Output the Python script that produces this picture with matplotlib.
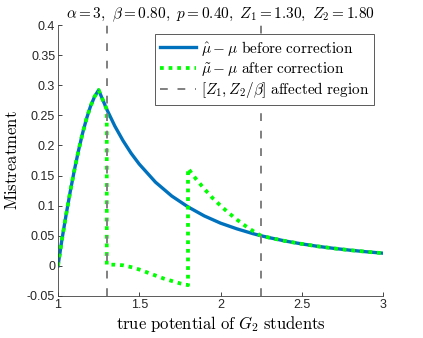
import numpy as np
import matplotlib
matplotlib.use("Agg")
import matplotlib.pyplot as plt

plt.rcParams['mathtext.fontset'] = 'cm'

# values
blue_x = [1.0, 1.025, 1.05, 1.075, 1.1, 1.125, 1.15, 1.175, 1.2, 1.225, 1.25,
          1.3, 1.35, 1.4, 1.45, 1.5, 1.6, 1.7, 1.8, 1.9, 2.0, 2.1, 2.2, 2.25,
          2.3, 2.4, 2.5, 2.6, 2.7, 2.8, 2.9, 3.0]
blue_y = [0.0, 0.045, 0.085, 0.123, 0.158, 0.19, 0.219, 0.244, 0.265, 0.281, 0.292,
          0.260, 0.232, 0.208, 0.187, 0.169, 0.139, 0.116, 0.098, 0.083, 0.071,
          0.0616, 0.0535, 0.050, 0.0469, 0.0412, 0.0365, 0.0324, 0.029, 0.026,
          0.0234, 0.0211]

green_x = [1.0, 1.025, 1.05, 1.075, 1.1, 1.125, 1.15, 1.175, 1.2, 1.225, 1.25,
           1.3, 1.3, 1.35, 1.4, 1.45, 1.5, 1.55, 1.6, 1.65, 1.7, 1.75, 1.8,
           1.8, 1.85, 1.9, 1.95, 2.0, 2.05, 2.1, 2.15, 2.2, 2.25,
           2.3, 2.4, 2.5, 2.6, 2.7, 2.8, 2.9, 3.0]
green_y = [0.0, 0.045, 0.085, 0.123, 0.158, 0.19, 0.219, 0.244, 0.265, 0.281, 0.292,
           0.260, 0.002, 0.002, 0.001, -0.002, -0.006, -0.011, -0.016, -0.021,
           -0.025, -0.029, -0.032,
           0.162, 0.144, 0.128, 0.113, 0.100, 0.088, 0.077, 0.067, 0.058, 0.050,
           0.0469, 0.0412, 0.0365, 0.0324, 0.029, 0.026, 0.0234, 0.0211]

z1 = 1.3
z2_over_beta = 2.25

xticks = [1, 1.5, 2, 2.5, 3]
xticklabels = ['1', '1.5', '2', '2.5', '3']
yticks = [-0.05, 0, 0.05, 0.1, 0.15, 0.2, 0.25, 0.3, 0.35, 0.4]
yticklabels = ['-0.05', '0', '0.05', '0.1', '0.15', '0.2', '0.25', '0.3', '0.35', '0.4']

fig = plt.figure(figsize=(4.23, 3.38), dpi=100)
ax = fig.add_axes([58 / 423, 42 / 338, 325 / 423, 271 / 338])

ax.plot(blue_x, blue_y, color='#0072BD', lw=2.4,
        label=r'$\hat{\mu}-\mu\ \mathrm{before\ correction}$')
ax.plot(green_x, green_y, color='#00FF00', lw=2.7, linestyle=(0, (1, 1.3)),
        dash_capstyle='butt',
        label=r'$\tilde{\mu}-\mu\ \mathrm{after\ correction}$')
ax.axvline(z1, color='#808080', lw=1.4, linestyle=(0, (4, 5)),
           label=r'$[Z_1, Z_2/\beta]\ \mathrm{affected\ region}$')
ax.axvline(z2_over_beta, color='#808080', lw=1.4, linestyle=(0, (4, 5)))

ax.set_xlim(1, 3)
ax.set_ylim(-0.05, 0.4)
ax.set_xticks(xticks)
ax.set_xticklabels(xticklabels, family='Liberation Sans', fontsize=9)
ax.set_yticks(yticks)
ax.set_yticklabels(yticklabels, family='Liberation Sans', fontsize=9)
ax.tick_params(direction='in', length=3, width=0.6, colors='#262626', pad=2)

for side in ['top', 'right']:
    ax.spines[side].set_visible(False)
for side in ['left', 'bottom']:
    ax.spines[side].set_linewidth(0.6)
    ax.spines[side].set_color('#404040')

ax.set_title(r'$\alpha = 3,\ \beta = 0.80,\ p = 0.40,\ Z_1 = 1.30,\ Z_2 = 1.80$',
             fontsize=11, pad=5)
ax.set_xlabel(r'$\mathrm{true\ potential\ of\ }G_2\mathrm{\ students}$', fontsize=12, labelpad=2)
ax.set_ylabel(r'$\mathrm{Mistreatment}$', fontsize=12, labelpad=4)

leg = ax.legend(loc='upper right', fontsize=11, fancybox=False, framealpha=1,
                edgecolor='#404040', borderpad=0.3, labelspacing=0.15,
                handlelength=2.4, handletextpad=0.3, borderaxespad=0.6)
leg.get_frame().set_linewidth(0.6)

fig.savefig('out.png', dpi=100)
